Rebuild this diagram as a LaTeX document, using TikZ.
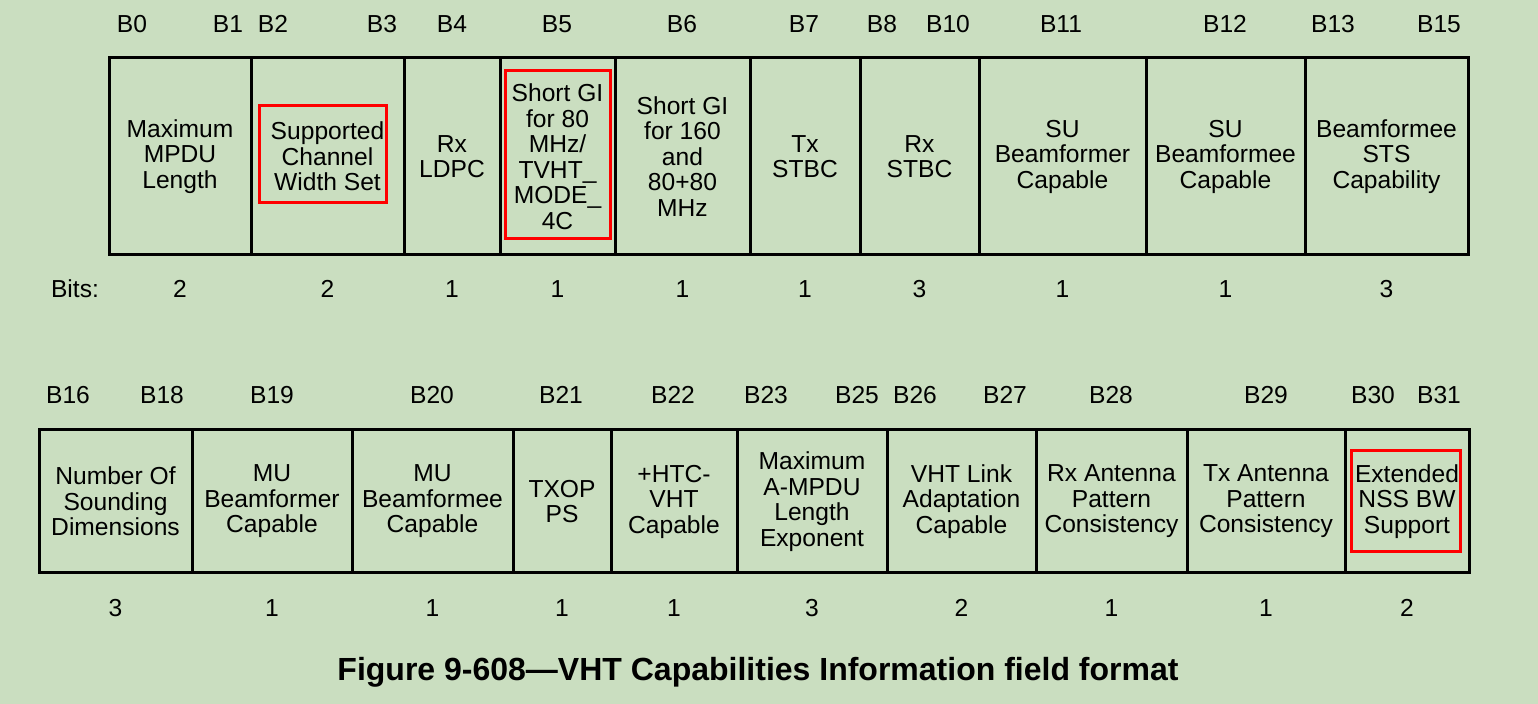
\documentclass[tikz,border=0pt]{standalone}
\usepackage{fontspec}
\setmainfont{Liberation Sans}
\usepackage{tikz}
\usetikzlibrary{positioning}
\definecolor{specgreen}{RGB}{202,222,192}
\definecolor{markred}{RGB}{255,0,0}
\tikzset{
    field/.style={draw, line width=1.5pt, inner sep=0pt, outer sep=0pt, align=center, font=\fontsize{12.3}{12.75}\selectfont},
    bitlbl/.style={inner sep=0pt, font=\fontsize{12.3}{12.75}\selectfont},
    redbox/.style={draw=markred, line width=1.5pt},
}

\begin{document}
\begin{tikzpicture}[x=0.5pt, y=-0.5pt]
        \fill [specgreen] (0, 0) rectangle (1538, 704);
        \useasboundingbox (0, 0) rectangle (1538, 704);
        \foreach \l/\r/\txt/\nb [count=\i] in {
            109/251/{Maximum\\MPDU\\Length}/2,
            251/404/{Supported\\Channel\\Width Set}/2,
            404/500/{Rx\\LDPC}/1,
            500/615/{Short GI\\for 80\\MHz/\\TVHT\_\\MODE\_\\4C}/1,
            615/750/{Short GI\\for 160\\and\\80+80\\MHz}/1,
            750/860/{Tx\\STBC}/1,
            860/979/{Rx\\STBC}/3,
            979/1146/{SU\\Beamformer\\Capable}/1,
            1146/1305/{SU\\Beamformee\\Capable}/1,
            1305/1468/{Beamformee\\STS\\Capability}/3}{
            \node [field, minimum width={(\r-\l)*0.5pt}, minimum height=98.5pt] (hi\i) at ({(\l+\r)/2}, 156.5) {\txt};
            \node [bitlbl] (hibits\i) at ({(\l+\r)/2}, 289) {\nb};
        }
        \foreach \l/\r/\txt/\nb [count=\i] in {
            39/192/{Number Of\\Sounding\\Dimensions}/3,
            192/352/{MU\\Beamformer\\Capable}/1,
            352/513/{MU\\Beamformee\\Capable}/1,
            513/611/{TXOP\\PS}/1,
            611/737/{+HTC-\\VHT\\Capable}/1,
            737/887/{Maximum\\A-MPDU\\Length\\Exponent}/3,
            887/1036/{VHT Link\\Adaptation\\Capable}/2,
            1036/1187/{Rx Antenna\\Pattern\\Consistency}/1,
            1187/1345/{Tx Antenna\\Pattern\\Consistency}/1,
            1345/1469/{Extended\\NSS BW\\Support}/2}{
            \node [field, minimum width={(\r-\l)*0.5pt}, minimum height=71.5pt] (lo\i) at ({(\l+\r)/2}, 501.5) {\txt};
            \node [bitlbl] (lobits\i) at ({(\l+\r)/2}, 608) {\nb};
        }
        \foreach \x/\b in {132/B0, 228/B1, 273/B2, 382/B3, 452/B4, 557/B5, 682/B6, 804/B7, 882/B8, 948/B10, 1061/B11, 1225/B12, 1333/B13, 1439/B15}{
            \node [bitlbl] (hi\b) at (\x, 24) {\b};
        }
        \foreach \x/\b in {68/B16, 162/B18, 272/B19, 432/B20, 561/B21, 673/B22, 766/B23, 857/B25, 915/B26, 1005/B27, 1111/B28, 1266/B29, 1373/B30, 1439/B31}{
            \node [bitlbl] (lo\b) at (\x, 395) {\b};
        }
        \node [bitlbl] (bitsname) at (75, 289) {Bits:};
        \draw [redbox] (259, 106) rectangle (386, 203);
        \draw [redbox] (505, 71) rectangle (610, 239);
        \draw [redbox] (1351, 451) rectangle (1460, 552);
        \node [font=\fontsize{16}{19}\selectfont\bfseries] (caption) at (758, 672) {Figure 9-608—VHT Capabilities Information field format};
    \end{tikzpicture}
\end{document}
